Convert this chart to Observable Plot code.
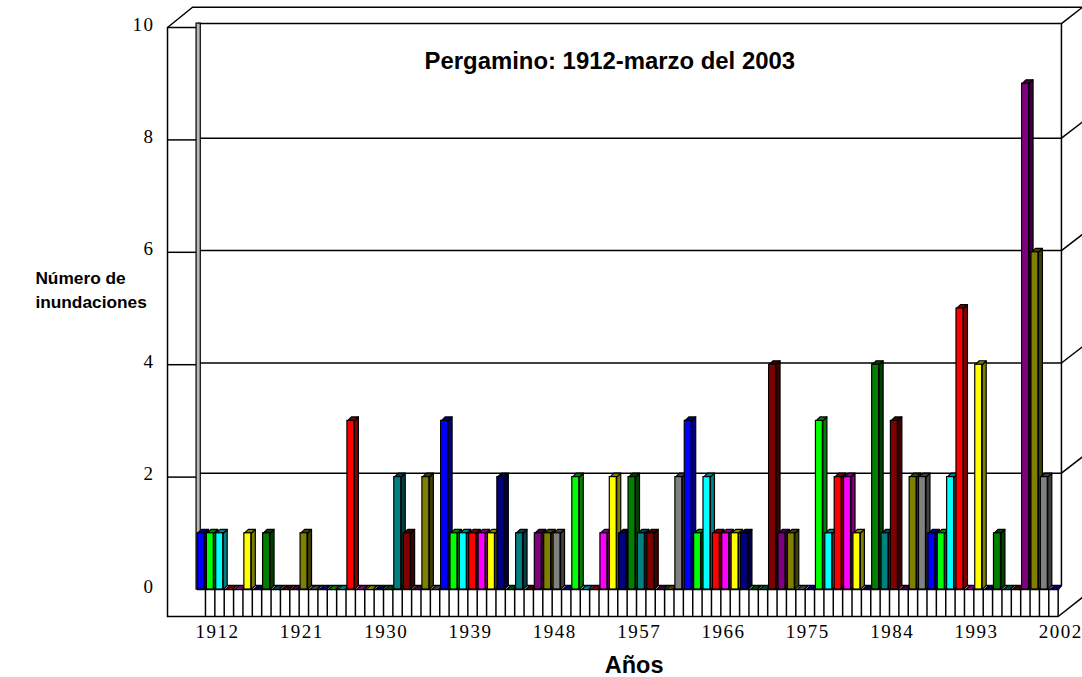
<!DOCTYPE html>
<html><head><meta charset="utf-8">
<script src="https://cdn.jsdelivr.net/npm/d3@7"></script>
<script src="https://cdn.jsdelivr.net/npm/@observablehq/plot@0.6"></script>
<style>
html,body{margin:0;padding:0;background:#fff;}
svg{display:block;}
g[aria-label="x-axis tick label"] text{letter-spacing:1.5px;}
g[aria-label="y-axis tick label"] text{letter-spacing:1.5px;}
</style></head><body><div id="chart"></div>
<script>
const firstYear = 1912;
const floods = [1,1,1,0,0,1,0,1,0,0,0,1,0,0,0,0,3,0,0,0,0,2,1,0,2,0,3,1,1,1,1,1,2,0,1,0,1,1,1,0,2,0,0,1,2,1,2,1,1,0,0,2,3,1,2,1,1,1,1,0,0,4,1,1,0,0,3,1,2,2,1,0,4,1,3,0,2,2,1,1,2,5,0,4,0,1,0,0,9,6,2,0];
const faceColors = ["#0000ff","#00ff00","#00ffff","#ff0000","#ff00ff","#ffff00","#000080","#008000","#008080","#800000","#800080","#808000","#808080"];
const sideColors = ["#000080","#008000","#008080","#800000","#800080","#808000","#000040","#004000","#004040","#400000","#400040","#404000","#404040"];
const yearLabels = [1912,1921,1930,1939,1948,1957,1966,1975,1984,1993,2002];
const valueLabels = [0,2,4,6,8,10];
const gridValues = [2,4,6,8,10];
const backLevels = [2.07,4.03,6.03,8.03,10.07];

const barWidth = 0.74, depthX = 0.43, depthY = 0.07;
const wallLeft = 1908.8, plateEnd = 2003.85, wallRight = 2004.2, edgeRight = 2006.45, backLeft = 1912.1;
const floorY = -0.48, boxTop = 10.36, rise = 0.29;

const bars = floods.map((v,i)=>({year:firstYear+i, v, face:faceColors[i%13], side:sideColors[i%13]}));
const shells = bars.flatMap(b=>{
  const l=b.year, r=b.year+barWidth;
  return [
    {id:b.year+"s",fill:b.side,x:r,y:0},{id:b.year+"s",fill:b.side,x:r+depthX,y:depthY},
    {id:b.year+"s",fill:b.side,x:r+depthX,y:b.v+depthY},{id:b.year+"s",fill:b.side,x:r,y:b.v},
    {id:b.year+"t",fill:b.side,x:l,y:b.v},{id:b.year+"t",fill:b.side,x:l+depthX,y:b.v+depthY},
    {id:b.year+"t",fill:b.side,x:r+depthX,y:b.v+depthY},{id:b.year+"t",fill:b.side,x:r,y:b.v}
  ];
});
const frame = [
  [[wallLeft,floorY],[wallLeft,10],[1911.47,boxTop],[edgeRight,boxTop]],
  [[wallLeft,floorY],[plateEnd,floorY],[edgeRight,floorY+0.34]],
  [[firstYear,0],[plateEnd,0],[wallRight,depthY],[wallRight,10+depthY]]
].flatMap((p,k)=>p.map(([x,y])=>({k,x,y})));
const rightTicks = backLevels.flatMap(v=>[{k:v,x:wallRight,y:v},{k:v,x:edgeRight,y:v+rise}]);
const cells = floods.map((_,i)=>firstYear+plateEnd-2003+i);

const serif = "Liberation Serif";
const bold = {fontFamily:"Liberation Sans",fontWeight:"bold",fontSize:17.3,fill:"#000"};
const sw = 1.5;

const chart = Plot.plot({
  width:1082, height:677, marginLeft:154, marginRight:0, marginTop:0, marginBottom:54,
  style:{background:"#fff",overflow:"hidden"},
  x:{type:"linear",domain:[firstYear,2003],range:[197,1049.7],axis:null},
  y:{type:"linear",domain:[0,10],range:[589,27],axis:null},
  marks:[
    Plot.ruleY([0.07,...backLevels],{x1:backLeft,x2:wallRight,stroke:"#000",strokeWidth:sw}),
    Plot.ruleY(gridValues,{x1:wallLeft,x2:firstYear,stroke:"#000",strokeWidth:sw}),
    Plot.rect([0],{x1:1911.9,x2:1912.35,y1:0,y2:10.07,fill:"#b8b8b8",stroke:"#000",strokeWidth:1.2}),
    Plot.line(frame,{x:"x",y:"y",z:"k",stroke:"#000",strokeWidth:sw}),
    Plot.line(rightTicks,{x:"x",y:"y",z:"k",stroke:"#000",strokeWidth:sw}),
    Plot.ruleX(cells,{y1:floorY,y2:0,stroke:"#000",strokeWidth:sw}),
    Plot.line(shells,{x:"x",y:"y",z:"id",fill:"fill",stroke:"#000",strokeWidth:1.2,curve:"linear-closed"}),
    Plot.rect(bars,{x1:d=>d.year,x2:d=>d.year+barWidth,y1:0,y2:"v",fill:"face",stroke:"#000",strokeWidth:1.2}),
    Plot.axisX({ticks:yearLabels,tickFormat:"d",tickSize:0,tickPadding:0,dx:20,dy:1,fontFamily:serif,fontSize:19,anchor:"bottom",label:null}),
    Plot.axisY({ticks:valueLabels,tickSize:0,tickPadding:0,dy:-3,fontFamily:serif,fontSize:19,anchor:"left",label:null}),
    Plot.text(["Pergamino: 1912-marzo del 2003"],{x:1956,y:9.39,text:d=>d,...bold,fontSize:23.9,textAnchor:"middle"}),
    Plot.text(["Número de"],{x:1894.7,y:5.53,text:d=>d,...bold,textAnchor:"start"}),
    Plot.text(["inundaciones"],{x:1894.7,y:5.107,text:d=>d,...bold,textAnchor:"start"}),
    Plot.text(["Años"],{x:1958.6,y:-1.36,text:d=>d,...bold,fontSize:23.5,textAnchor:"middle"})
  ]
});
document.getElementById("chart").appendChild(chart);
</script></body></html>
